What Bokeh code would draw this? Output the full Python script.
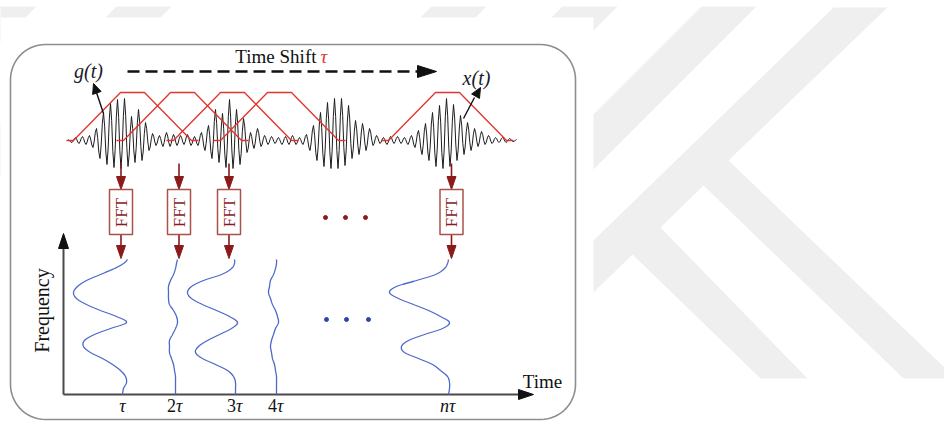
import numpy as np
from bokeh.plotting import figure
from bokeh.models import Range1d
from bokeh.core.properties import value
from bokeh.embed import file_html
from bokeh.resources import INLINE

# ---------------- data (diagram coordinates) ----------------
# x(t): alternating local extremes (upper peaks / lower troughs)
signal_start = 68.0
signal_half_period = 3.5
signal_baseline = 140.0
x_t_up = [1, 3, 4, 5, 12, 28, 37, 41, 42, 24, 31, 18, 7, 5, 8, 6, 5, 6, 4, 8,
          15, 31, 27, 41, 31, 22, 8, 12, 5, 4, 3, 4, 5, 3, 6, 15, 28, 38, 42, 42,
          35, 20, 17, 12, 5, 3, 4, 4, 3, 5, 10, 17, 28, 35, 42, 36, 25, 18, 12, 9,
          5, 3, 3, 2, 1]
x_t_down = [2, 3, 4, 7, 18, 24, 27, 28, 26, 22, 20, 10, 5, 6, 6, 5, 4, 5, 5, 10,
            18, 22, 27, 28, 24, 12, 8, 6, 4, 3, 4, 4, 4, 4, 10, 20, 26, 28, 28, 25,
            18, 14, 10, 5, 3, 4, 3, 3, 4, 7, 14, 20, 26, 28, 26, 20, 14, 10, 6, 4,
            3, 2, 2, 1]

# g(t) windows (time shift tau)
window_centers = [132, 182, 232, 279, 447]
window_flat_half = 12
window_ramp = 47
window_foot = 7
window_top = 92

# FFT blocks
fft_x = [120.5, 178.5, 228.5, 451.0]

# spectra at tau, 2tau, 3tau, 4tau, n tau
tau_x = [122, 175, 235, 276, 448]
tau_prefix = ["", "2", "3", "4", "n"]
spec_y = [394, 388, 382, 376, 370, 364, 358, 352, 346, 340, 334, 328, 322, 316,
          310, 304, 298, 292, 286, 280, 274, 268, 263, 259]
spec_tau1 = [0, 1, 4, 3, -2, -10, -20, -32, -39, -38, -28, -12, 4, -6, -22, -36,
             -46, -49, -45, -36, -22, -8, 1, 5]
spec_tau2 = [0, 0, 0, 0, -1, -2, -4, -6, -6, -6, -3, 0, 2, 1, -2, -6, -7, -7, -7,
             -5, -2, 0, 1, 2]
spec_tau3 = [0, 0, 0, -2, -8, -20, -33, -40, -37, -28, -16, -4, 2, -6, -19, -33,
             -44, -48, -44, -32, -14, -4, -1, -1]
spec_tau4 = [0, 0, 0, 0, -1, -2, -4, -5, -6, -5, -3, -1, 2, 1, -1, -4, -6, -8, -7,
             -6, -3, -1, 0, 0]
spec_taun = [0, 1, 1, -1, -8, -16, -30, -44, -47, -40, -24, -6, 1, -8, -20, -35,
             -50, -59, -52, -32, -13, -4, -1, 0]
spectra = [spec_tau1, spec_tau2, spec_tau3, spec_tau4, spec_taun]

dots_red_x = [325, 345, 365]
dots_blue_x = [326, 346, 368]

# ---------------- helpers ----------------
def smooth(xs, ys, n=8):
    P = np.column_stack([xs, ys]).astype(float)
    P = np.vstack([P[0], P, P[-1]])
    out = []
    for i in range(1, len(P) - 2):
        p0, p1, p2, p3 = P[i - 1], P[i], P[i + 1], P[i + 2]
        for t in np.linspace(0, 1, n, endpoint=False):
            t2 = t * t
            t3 = t2 * t
            out.append(0.5 * ((2 * p1) + (-p0 + p2) * t
                              + (2 * p0 - 5 * p1 + 4 * p2 - p3) * t2
                              + (-p0 + 3 * p1 - 3 * p2 + p3) * t3))
    out.append(P[-2])
    a = np.array(out)
    return a[:, 0], a[:, 1]


def tri(tx, ty, dx, dy, length, half):
    # arrow head with tip (tx,ty), pointing along (dx,dy)
    L = np.hypot(dx, dy)
    ux, uy = dx / L, dy / L
    bx, by = tx - ux * length, ty - uy * length
    px, py = -uy, ux
    return [tx, bx + px * half, bx - px * half], [ty, by + py * half, by - py * half]


def rounded_rect(x0, y0, x1, y1, r, n=16):
    xs, ys = [], []
    for cx, cy, a0, a1 in [(x0 + r, y0 + r, 180, 270), (x1 - r, y0 + r, 270, 360),
                           (x1 - r, y1 - r, 0, 90), (x0 + r, y1 - r, 90, 180)]:
        a = np.radians(np.linspace(a0, a1, n))
        xs += list(cx + r * np.cos(a))
        ys += list(cy + r * np.sin(a))
    return xs, ys


SERIF = value("Liberation Serif")
DARK_RED = "#8b1a1a"

p = figure(width=944, height=423, x_range=Range1d(0, 944), y_range=Range1d(423, 0),
           x_axis_location=None, y_axis_location=None, toolbar_location=None,
           output_backend="svg", min_border=0)
p.grid.visible = False
p.outline_line_color = None
p.background_fill_color = "white"
p.border_fill_color = "white"

# ---------------- watermark ----------------
wm = "#efefef"
k_x = [833, 887, 728, 944, 944, 903, 703, 660, 807, 760, 632, 560, 560]
k_y = [7, 7, 160, 367, 378, 378, 185, 227, 378, 378, 254, 324, 272]
wxs, wys = [k_x], [k_y]
for s1, s2 in [(568, 623), (707, 762), (437, 492), (122, 177), (-13, 42)]:
    wxs.append([s1 - 6, s2 - 6, s2 - 420, s1 - 420])
    wys.append([6, 6, 420, 420])
p.patches(wxs, wys, fill_color=wm, line_color=None)
p.quad(left=[0], right=[593], top=[17], bottom=[423], fill_color="white", line_color=None)

# ---------------- frame ----------------
bx, by = rounded_rect(10, 44, 575, 419, 35)
p.patch(bx, by, fill_color="white", line_color="#8e8e8e", line_width=1.6)

# ---------------- signal x(t) ----------------
sx, sy = [], []
for k in range(len(x_t_up)):
    sx.append(signal_start + 2 * k * signal_half_period)
    sy.append(signal_baseline - x_t_up[k])
    if k < len(x_t_down):
        sx.append(signal_start + (2 * k + 1) * signal_half_period)
        sy.append(signal_baseline + x_t_down[k])
cx_, cy_ = smooth(sx, sy, 3)
p.line(cx_, cy_, line_color="#1c1c1c", line_width=1.0)

# ---------------- windows g(t) ----------------
for c in window_centers:
    a = c - window_flat_half
    b = c + window_flat_half
    xs = [a - window_ramp - window_foot, a - window_ramp, a, b, b + window_ramp,
          b + window_ramp + window_foot]
    ys = [signal_baseline, signal_baseline, window_top, window_top, signal_baseline,
          signal_baseline]
    p.line(xs, ys, line_color="#e0342c", line_width=1.3)

# ---------------- labels top ----------------
p.text(x=[316], y=[56], text=["Time Shift"], text_font=SERIF, text_font_size="19px",
       text_align="right", text_baseline="middle", text_color="#111111")
p.text(x=[320], y=[56], text=["τ"], text_font=SERIF, text_font_size="19px",
       text_font_style="italic", text_align="left", text_baseline="middle",
       text_color="#e0342c")
# dashed arrow
p.line([127, 419], [71, 71], line_color="#111111", line_width=2.4, line_dash="12 6")
tx, ty = tri(436, 71, 1, 0, 19, 6)
p.patch(tx, ty, fill_color="#111111", line_color="#111111")

p.text(x=[88], y=[70], text=["g(t)"], text_font=SERIF, text_font_size="20px",
       text_font_style="italic", text_align="center", text_baseline="middle",
       text_color="#1a1a2a")
p.text(x=[476], y=[77], text=["x(t)"], text_font=SERIF, text_font_size="20px",
       text_font_style="italic", text_align="center", text_baseline="middle",
       text_color="#1a1a2a")
p.line([103, 96], [113, 92], line_color="#111111", line_width=1.4)
tx, ty = tri(93, 83, -10, -28, 10, 4.5)
p.patch(tx, ty, fill_color="#111111", line_color="#111111")
p.line([463, 474], [118, 97], line_color="#111111", line_width=1.4)
tx, ty = tri(480, 87, 17, -30, 10, 4.5)
p.patch(tx, ty, fill_color="#111111", line_color="#111111")

# ---------------- FFT blocks ----------------
for fx in fft_x:
    p.line([fx, fx], [163, 180], line_color=DARK_RED, line_width=1.6)
    tx, ty = tri(fx, 189, 0, 1, 13, 4.5)
    p.patch(tx, ty, fill_color=DARK_RED, line_color=DARK_RED)
    p.line([fx, fx], [234, 248], line_color=DARK_RED, line_width=1.6)
    tx, ty = tri(fx, 258, 0, 1, 13, 4.5)
    p.patch(tx, ty, fill_color=DARK_RED, line_color=DARK_RED)
p.rect(x=fft_x, y=211.5, width=23, height=45, fill_color="white",
       line_color="#a8524a", line_width=1.5)
p.text(x=fft_x, y=[212] * len(fft_x), text=["FFT"] * len(fft_x), angle=np.pi / 2,
       text_font=SERIF, text_font_size="17px", text_align="center",
       text_baseline="middle", text_color=DARK_RED)
p.scatter(x=dots_red_x, y=[217] * 3, size=4, color=DARK_RED)

# ---------------- time-frequency axes ----------------
AX = "#4a4a4a"
p.line([63, 63], [394, 245], line_color=AX, line_width=2)
tx, ty = tri(63, 233, 0, -1, 15, 5)
p.patch(tx, ty, fill_color="#111111", line_color="#111111")
p.line([63, 519], [394, 394], line_color=AX, line_width=2)
tx, ty = tri(533, 394, 1, 0, 15, 5)
p.patch(tx, ty, fill_color="#111111", line_color="#111111")
p.text(x=[41], y=[310], text=["Frequency"], angle=np.pi / 2, text_font=SERIF,
       text_font_size="20px", text_align="center", text_baseline="middle",
       text_color="#111111")
p.text(x=[542], y=[381], text=["Time"], text_font=SERIF, text_font_size="19px",
       text_align="center", text_baseline="middle", text_color="#111111")

# ---------------- spectra ----------------
for base, offs in zip(tau_x, spectra):
    xs = [base + o for o in offs]
    cx2, cy2 = smooth(xs, spec_y, 8)
    p.line(cx2, cy2, line_color="#4d68c8", line_width=1.3)
p.scatter(x=dots_blue_x, y=[319] * 3, size=4, color="#2b44b0")

# tick labels
for base, pre in zip(tau_x, tau_prefix):
    if pre == "":
        p.text(x=[base], y=[405], text=["τ"], text_font=SERIF, text_font_size="18px",
               text_font_style="italic", text_align="center", text_baseline="middle",
               text_color="#111111")
    else:
        style = "italic" if pre == "n" else "normal"
        p.text(x=[base + 0.5], y=[405], text=[pre], text_font=SERIF,
               text_font_size="18px", text_font_style=style, text_align="right",
               text_baseline="middle", text_color="#111111")
        p.text(x=[base + 0.5], y=[405], text=["τ"], text_font=SERIF,
               text_font_size="18px", text_font_style="italic", text_align="left",
               text_baseline="middle", text_color="#111111")

open("out.html", "w").write(file_html(p, INLINE))
